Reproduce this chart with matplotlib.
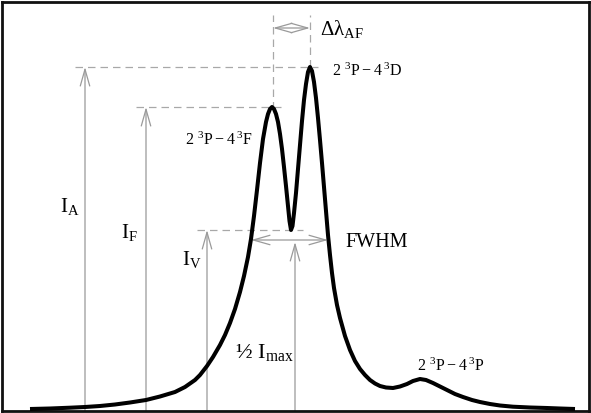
import numpy as np
import matplotlib
matplotlib.use("Agg")
import matplotlib.pyplot as plt
from matplotlib.patches import FancyArrowPatch

plt.rcParams['mathtext.fontset'] = 'custom'
plt.rcParams['mathtext.rm'] = 'Liberation Serif'
plt.rcParams['mathtext.it'] = 'Liberation Serif'
plt.rcParams['font.family'] = ['Liberation Serif', 'DejaVu Serif']

# ---- data: line profile (wavelength position, intensity)
wavelength = [30, 50, 70, 85, 100, 115, 130, 146, 160, 175, 185, 195, 200, 207,
              213, 220, 225, 230, 235, 240, 244, 248, 251, 254, 257, 260, 263,
              266, 268, 270, 272, 274, 276, 278, 280, 282, 284, 286, 288, 289.5,
              291, 292.5, 294, 296, 298, 300, 302, 304, 306, 308, 310, 312, 314,
              316, 318, 320, 322, 324, 326, 328, 330, 332, 334, 337, 340, 345,
              350, 355, 360, 365, 370, 375, 380, 386, 393, 400, 407, 413, 420,
              426, 433, 440, 447, 455, 463, 472, 480, 490, 500, 513, 530, 547,
              560, 575]
intensity = [2, 2.5, 3.3, 4, 5, 6.5, 8.5, 11, 14.5, 19, 24, 31, 36, 45,
             54, 66, 76, 88, 102, 119, 135, 154, 172, 195, 221, 248, 272,
             289, 297, 302, 304, 302, 297, 289, 277, 262, 244, 225, 205, 190,
             181, 185, 198, 218, 242, 266, 290, 311, 327, 339, 344, 340, 329,
             313, 293, 271, 248, 224, 200, 176, 156, 138, 123, 106, 93, 75,
             61, 50, 42, 36, 31, 27.5, 25, 23.5, 23, 24.5, 27, 30, 32,
             31, 28, 24.5, 21, 17, 14, 11, 9, 7, 5.5, 4.3, 3.5, 3,
             2.5, 2]

labels_lines = [r'$\mathrm{2\ ^{3}P - 4\,^{3}D}$',
                r'$\mathrm{2\ ^{3}P - 4\,^{3}F}$',
                r'$\mathrm{2\ ^{3}P - 4\,^{3}P}$']

wl = np.array(wavelength, dtype=float)
it = np.array(intensity, dtype=float)
iA = int(np.argmax(it))
xA, I_A = wl[iA], it[iA]
maskF = wl < 288
iF = int(np.argmax(np.where(maskF, it, -1)))
xF, I_F = wl[iF], it[iF]
maskV = (wl > xF) & (wl < xA)
iV = int(np.argmin(np.where(maskV, it, 1e9)))
xV, I_V = wl[iV], it[iV]
half = I_A / 2.0 - 1

GRAY = '#9a9a9a'

fig = plt.figure(figsize=(5.91, 4.13), dpi=100)
ax = fig.add_axes([2 / 591, 2 / 413, 587 / 591, 409 / 413])
ax.set_xlim(2, 589)
ax.set_ylim(0, 409)
ax.set_xticks([])
ax.set_yticks([])
for s in ax.spines.values():
    s.set_linewidth(2.0)
    s.set_color('#111111')


def arrow(p0, p1, style='->'):
    a = FancyArrowPatch(p0, p1, arrowstyle=f'{style},head_length=12,head_width=3.4',
                        mutation_scale=1, color=GRAY, lw=0.9, shrinkA=0, shrinkB=0,
                        zorder=2)
    ax.add_patch(a)


def dash(xs, ys):
    ax.plot(xs, ys, color='#a8a8a8', lw=0.9, dashes=(6, 4), zorder=1)

# vertical arrows
arrow((85, 0), (85, I_A))
arrow((146, 0), (146, I_F))
arrow((207, 0), (207, I_V))
arrow((295, 0), (295, half - 2))
# dashed guide lines
dash([75, xA + 8], [I_A, I_A])
dash([136, xF + 12], [I_F, I_F])
dash([197, xV + 12], [I_V, I_V])
dash([xF + 1, xF + 1], [I_F - 2, 396])
dash([xA, xA], [I_A, 396])
# FWHM arrow
arrow((251, half), (328, half), style='<->')
# delta lambda arrow
arrow((xF + 1, 383), (xA, 383), style='<->')

# profile curve
ax.plot(wl, it, color='black', lw=2.9, solid_joinstyle='round',
        solid_capstyle='butt', zorder=3)

# texts
ax.text(320, 376, r'$\mathrm{\Delta\lambda}_{\mathrm{AF}}$', fontsize=15, va='baseline')
ax.text(332, 335, labels_lines[0], fontsize=11.5, va='baseline')
ax.text(185, 266, labels_lines[1], fontsize=11.5, va='baseline')
ax.text(417, 40, labels_lines[2], fontsize=11.5, va='baseline')
ax.text(345, 164, 'FWHM', fontsize=14.5, va='baseline')
ax.text(60, 199, r'$\mathrm{I}_{\mathrm{A}}$', fontsize=15, va='baseline')
ax.text(121, 173, r'$\mathrm{I}_{\mathrm{F}}$', fontsize=15, va='baseline')
ax.text(182, 146, r'$\mathrm{I}_{\mathrm{V}}$', fontsize=15, va='baseline')
ax.text(235, 53, '$\\mathrm{\u00bd\\ I}_{\\mathrm{max}}$', fontsize=16, va='baseline')

fig.savefig('out.png', dpi=100)
